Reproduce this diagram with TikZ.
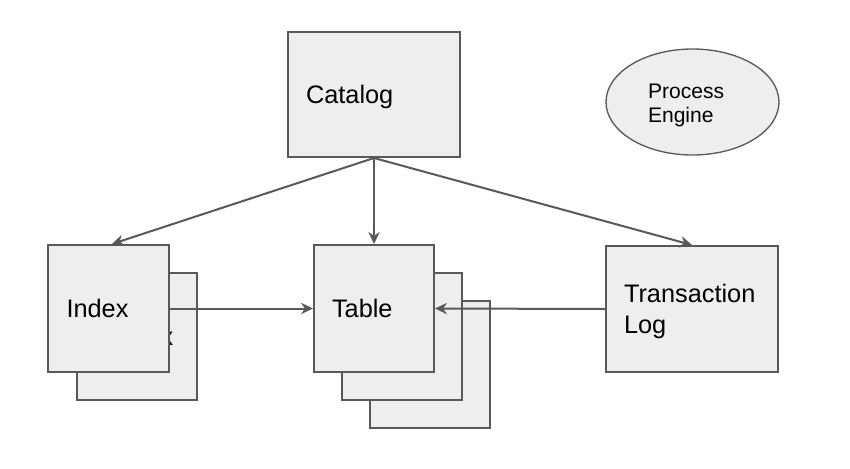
\documentclass[tikz,border=0pt]{standalone}
\usepackage{fontspec}
\setmainfont{Liberation Sans}
\usetikzlibrary{arrows.meta,shapes.geometric}
\definecolor{boxfill}{HTML}{EEEEEE}
\definecolor{linegray}{HTML}{595959}
\tikzset{
  box/.style={draw=linegray, fill=boxfill, line width=1.5pt, rectangle, inner sep=0pt,
    align=left, font=\fontsize{19}{23.6}\selectfont},
  smallbox/.style={box, minimum width=90pt, minimum height=95.25pt, text width=63pt},
  bigbox/.style={box, minimum width=129pt, minimum height=94.5pt, text width=102pt},
  engine/.style={draw=linegray, fill=boxfill, line width=1pt, ellipse, inner sep=0pt,
    minimum width=129.75pt, minimum height=79.5pt, text width=66.75pt, align=left,
    font=\fontsize{15.8}{18}\selectfont},
  conn/.style={draw=linegray, line width=1.5pt,
    -{Stealth[length=9pt,width=8.5pt,inset=3pt]}}
}
\begin{document}
\begin{tikzpicture}[x=0.75pt,y=-0.75pt]
\useasboundingbox (0,0) rectangle (850,468);
% Catalog
\node[bigbox, minimum height=93.75pt, text depth=0pt] (catalog) at (374,94.5) {Catalog};
% Process Engine
\node[engine] (eng) at (692.5,102) {\rule{0pt}{15.5pt}Process\\Engine};
% Index stack
\node[smallbox] (idxback) at (137,336.5) {\hspace*{12.3pt}Index};
\node[smallbox, minimum width=90.75pt] (idx) at (108.5,308.5) {Index};
% Table stack
\node[smallbox] (tblback2) at (430,364.5) {\hspace*{10.5pt}Table};
\node[smallbox] (tblback1) at (402,336.5) {\hspace*{10.5pt}Table};
\node[smallbox] (tbl) at (374,308.5) {Table};
% Transaction Log
\node[bigbox] (txlog) at (692,309) {\rule{0pt}{17.8pt}Transaction\\Log};
% connectors
\draw[conn] (catalog.south) -- ([xshift=2.6pt]idx.north);
\draw[conn] (catalog.south) -- (tbl.north);
\draw[conn] (catalog.south) -- (txlog.north);
\draw[conn] (idx.east) -- (tbl.west);
\draw[conn] (txlog.west) -- (tbl.east);
\end{tikzpicture}
\end{document}
